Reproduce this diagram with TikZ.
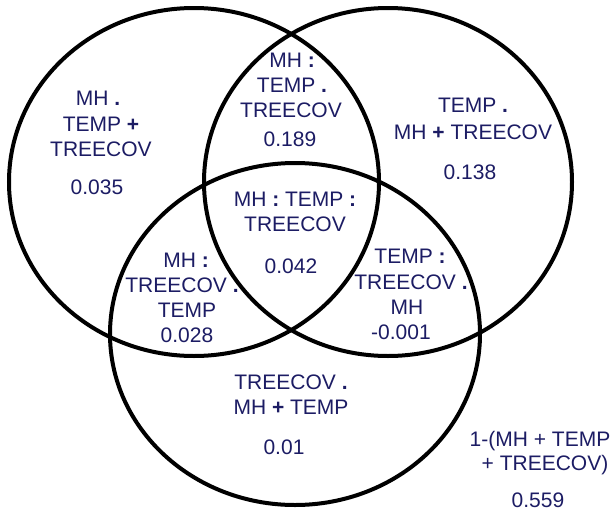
\documentclass[tikz,border=0pt]{standalone}
\usepackage{fontspec}
\setmainfont{Liberation Sans}
\definecolor{navy}{RGB}{28,28,100}
\begin{document}
\begin{tikzpicture}[x=1pt,y=-1pt,
  ring/.style={draw=black,line width=4pt},
  lbl/.style={text=navy,font=\fontsize{21}{25}\selectfont,inner sep=0pt,text height=0.72em,text depth=0pt,anchor=center}]
\useasboundingbox[fill=white] (0,0) rectangle (614,512);
% circles
\draw[ring] (194,182) ellipse [x radius=185,y radius=174];
\draw[ring] (388,182) ellipse [x radius=184,y radius=174];
\draw[ring] (295,334) ellipse [x radius=185,y radius=171];
% left only
\node[lbl] (a1) at (98,102) {MH \textbf{.}};
\node[lbl] (a2) at (101,128) {TEMP \textbf{+}};
\node[lbl] (a3) at (101,153) {TREECOV};
\node[lbl] (a4) at (97,191) {0.035};
% top intersection
\node[lbl] (b1) at (292,64) {MH \textbf{:}};
\node[lbl] (b2) at (292,89) {TEMP \textbf{.}};
\node[lbl] (b3) at (291,114) {TREECOV};
\node[lbl] (b4) at (290,143) {0.189};
% right only
\node[lbl] (c1) at (473,109) {TEMP \textbf{.}};
\node[lbl] (c2) at (473,136) {MH \textbf{+} TREECOV};
\node[lbl] (c3) at (470,176) {0.138};
% centre
\node[lbl] (d1) at (295,203) {MH \textbf{:} TEMP \textbf{:}};
\node[lbl] (d2) at (295,228) {TREECOV};
\node[lbl] (d3) at (291,270) {0.042};
% left-bottom
\node[lbl] (e1) at (186,264) {MH \textbf{:}};
\node[lbl] (e2) at (182,289) {TREECOV \textbf{.}};
\node[lbl] (e3) at (187,314) {TEMP};
\node[lbl] (e4) at (187,339) {0.028};
% right-bottom
\node[lbl] (f1) at (410,260) {TEMP \textbf{:}};
\node[lbl] (f2) at (411,286) {TREECOV \textbf{.}};
\node[lbl] (f3) at (407,311) {MH};
\node[lbl] (f4) at (401,336) {-0.001};
% bottom only
\node[lbl] (g1) at (291,386) {TREECOV \textbf{.}};
\node[lbl] (g2) at (291,411) {MH \textbf{+} TEMP};
\node[lbl] (g3) at (284,451) {0.01};
% outside
\node[lbl] (h1) at (540,443) {1-(MH + TEMP};
\node[lbl] (h2) at (545,467) {+ TREECOV)};
\node[lbl] (h3) at (538,504) {0.559};
\end{tikzpicture}
\end{document}
